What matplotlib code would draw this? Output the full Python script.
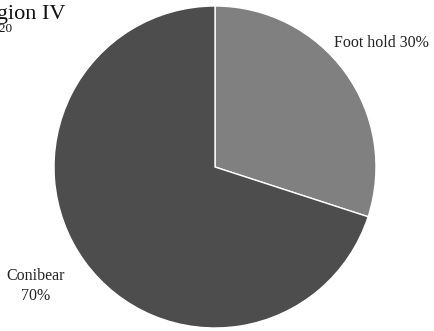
import matplotlib as mpl
mpl.use('Agg')
import matplotlib.pyplot as plt

categories = ['Foot hold', 'Conibear']
values = [30, 70]
labels = ['Foot hold 30%', 'Conibear\n70%']
colors = ['#808080', '#4d4d4d']

plt.rcParams['font.family'] = ['Liberation Serif', 'DejaVu Serif']

fig = plt.figure(figsize=(4.35, 3.31), dpi=100)
cx, cy, r = 215, 167, 161
ax = fig.add_axes([(cx - r) / 435, (331 - cy - r) / 331, 2 * r / 435, 2 * r / 331])
wedges, texts = ax.pie(values, labels=labels, colors=colors, startangle=90, counterclock=False,
                       labeldistance=1.32, wedgeprops=dict(edgecolor='white', linewidth=1),
                       textprops=dict(fontsize=11.5, ha='center', va='center', color='#222222'))
# nudge labels to where the reference has them
label_pos = [(1.035, 0.77), (-1.115, -0.74)]
for t, p in zip(texts, label_pos):
    t.set_ha('center')
    t.set_linespacing(1.3)
    t.set_position(p)
ax.set_xlim(-1, 1)
ax.set_ylim(-1, 1)
ax.set_aspect('equal')
ax.axis('off')

fig.text(66 / 435, 1 - 19 / 331, 'Region IV', fontsize=16, ha='right', va='baseline', color='#111111')
fig.text(13 / 435, 1 - 32 / 331, '2019-20', fontsize=9.5, ha='right', va='baseline', color='#111111')

plt.savefig('out.png', dpi=100)
